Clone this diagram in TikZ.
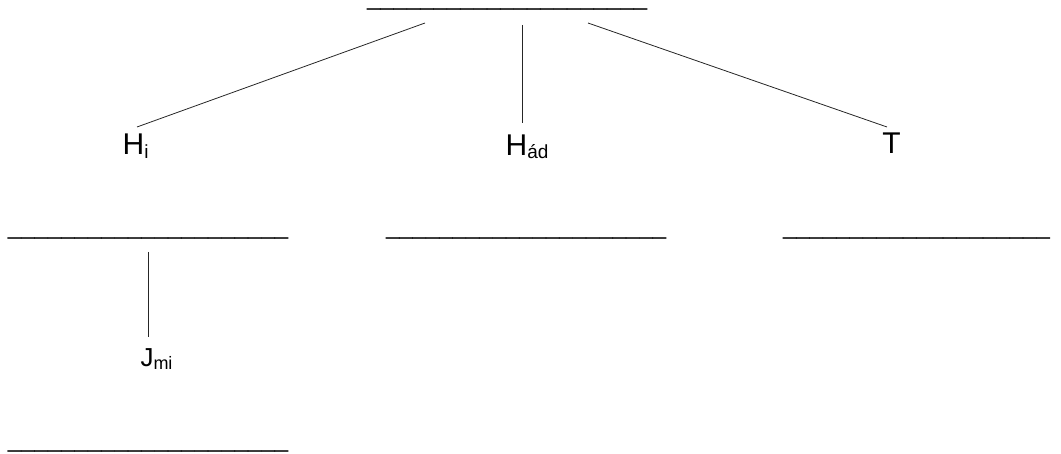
\documentclass[tikz,border=0pt]{standalone}
\usepackage{fontspec}
\setmainfont{Liberation Sans}
\newcommand{\blankline}[1]{\fontsize{24}{28}\selectfont\foreach \k in {1,...,#1}{\_}}
\tikzset{
  blank/.style={anchor=base west, inner sep=0pt, outer sep=0pt, text height=0pt, text depth=6pt},
  lbl/.style={anchor=base west, inner sep=0pt, outer sep=0pt},
  conn/.style={draw=black!85, line width=0.8pt},
}
\newcommand{\bigtxt}{\fontsize{30}{36}\selectfont}
\newcommand{\subtxt}[1]{\raisebox{-3.5pt}{\fontsize{19}{22}\selectfont #1}}
\begin{document}
\begin{tikzpicture}[x=1pt,y=-1pt]
\useasboundingbox (0,0) rectangle (1061,454);
% blank lines (underscores)
\node[blank] (top) at (367,6) {\blankline{21}};
\node[blank] (l1) at (8,235) {\blankline{21}};
\node[blank] (l2) at (386,235) {\blankline{21}};
\node[blank] (l3) at (783,235) {\blankline{20}};
\node[blank] (l4) at (8,447.5) {\blankline{21}};
% labels
\node[lbl] (hi) at (122.6,155) {\bigtxt H\subtxt{i}};
\node[lbl] (had) at (505.6,155.5) {\bigtxt H\subtxt{ád}};
\node[lbl] (t) at (882.4,154) {\bigtxt T};
\node[lbl] (jmi) at (140.5,367) {\fontsize{26}{30}\selectfont J\raisebox{-2pt}{\fontsize{18}{21}\selectfont mi}};
% connector endpoints
\coordinate (a1) at (425,23);
\coordinate (a2) at (137,127);
\coordinate (b1) at (522,25);
\coordinate (b2) at (522,123);
\coordinate (c1) at (588,23);
\coordinate (c2) at (887,127);
\coordinate (d1) at (148,252);
\coordinate (d2) at (148,337);
\draw[conn] (a1) -- (a2);
\draw[conn] (b1) -- (b2);
\draw[conn] (c1) -- (c2);
\draw[conn] (d1) -- (d2);
\end{tikzpicture}
\end{document}
